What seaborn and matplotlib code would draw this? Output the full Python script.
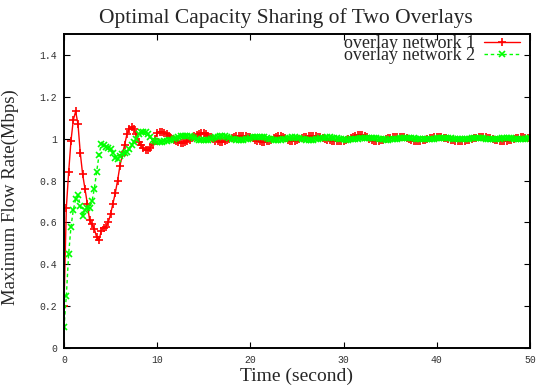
import numpy as np
import pandas as pd
import seaborn as sns
import matplotlib.pyplot as plt

# time grid (seconds), one sample every 0.25 s
time_s = np.arange(0, 50.001, 0.25)

# overlay network 1 (Mbps)
net1 = [
    0.20, 0.67, 0.84, 0.99, 1.09, 1.13, 1.07, 0.93,            # 0 - 1.75
    0.83, 0.76, 0.69, 0.61, 0.59, 0.57, 0.53, 0.515,           # 2 - 3.75
    0.56, 0.575, 0.58, 0.60, 0.64, 0.69, 0.74, 0.80,           # 4 - 5.75
    0.87, 0.92, 0.97, 1.02, 1.048, 1.057, 1.045, 1.02,         # 6 - 7.75
    0.985, 0.97, 0.955, 0.947, 0.946, 0.955, 0.975, 1.00,      # 8 - 9.75
    1.025, 1.03, 1.03, 1.027, 1.021, 1.013, 1.004, 0.995,      # 10 - 11.75
    0.987, 0.982, 0.980, 0.980, 0.983, 0.989, 0.996, 1.004,    # 12 - 13.75
    1.012, 1.019, 1.024, 1.026, 1.025, 1.021, 1.014, 1.006,    # 14 - 15.75
    0.998, 0.991, 0.987, 0.985, 0.985, 0.988, 0.992, 0.998,    # 16 - 17.75
    1.005, 1.009, 1.012, 1.014, 1.015, 1.015, 1.013, 1.010,    # 18 - 19.75
    1.006, 1.001, 0.996, 0.991, 0.987, 0.985, 0.985, 0.987,    # 20 - 21.75
    0.991, 0.996, 1.002, 1.008, 1.012, 1.012, 1.009, 1.003,    # 22 - 23.75
    0.993, 0.990, 0.989, 0.991, 0.994, 0.998, 1.002, 1.006,    # 24 - 25.75
    1.009, 1.011, 1.012, 1.012, 1.011, 1.009, 1.006, 1.002,    # 26 - 27.75
    0.999, 0.996, 0.993, 0.990, 0.988, 0.987, 0.987, 0.987,    # 28 - 29.75
    0.989, 0.992, 0.997, 1.003, 1.008, 1.013, 1.016, 1.017,    # 30 - 31.75
    1.016, 1.012, 1.006, 1.000, 0.994, 0.990, 0.989, 0.990,    # 32 - 33.75
    0.992, 0.995, 0.998, 1.002, 1.005, 1.007, 1.008, 1.009,    # 34 - 35.75
    1.009, 1.008, 1.006, 1.002, 0.998, 0.994, 0.991, 0.990,    # 36 - 37.75
    0.990, 0.991, 0.993, 0.996, 0.999, 1.002, 1.005, 1.007,    # 38 - 39.75
    1.008, 1.008, 1.007, 1.005, 1.002, 0.999, 0.996, 0.993,    # 40 - 41.75
    0.991, 0.990, 0.989, 0.989, 0.990, 0.992, 0.995, 0.998,    # 42 - 43.75
    1.001, 1.004, 1.006, 1.007, 1.007, 1.006, 1.004, 1.001,    # 44 - 45.75
    0.998, 0.995, 0.993, 0.991, 0.990, 0.990, 0.991, 0.993,    # 46 - 47.75
    0.996, 0.999, 1.002, 1.004, 1.006, 1.006, 1.005, 1.003,    # 48 - 49.75
    1.001,                                                     # 50
]

# overlay network 2 (Mbps)
net2 = [
    0.10, 0.25, 0.45, 0.58, 0.66, 0.71, 0.73, 0.68,            # 0 - 1.75
    0.63, 0.66, 0.67, 0.67, 0.70, 0.76, 0.84, 0.92,            # 2 - 3.75
    0.975, 0.97, 0.96, 0.955, 0.95, 0.93, 0.91, 0.905,         # 4 - 5.75
    0.915, 0.925, 0.93, 0.935, 0.95, 0.97, 0.985, 1.00,        # 6 - 7.75
    1.02, 1.03, 1.034, 1.03, 1.02, 1.006, 0.995, 0.988,        # 8 - 9.75
    0.985, 0.984, 0.985, 0.987, 0.990, 0.993, 0.996, 0.999,    # 10 - 11.75
    1.003, 1.007, 1.011, 1.014, 1.015, 1.015, 1.013, 1.009,    # 12 - 13.75
    1.004, 0.999, 0.995, 0.993, 0.993, 0.994, 0.996, 0.999,    # 14 - 15.75
    1.003, 1.007, 1.010, 1.012, 1.012, 1.011, 1.008, 1.004,    # 16 - 17.75
    1.000, 0.997, 0.995, 0.994, 0.994, 0.995, 0.997, 1.000,    # 18 - 19.75
    1.003, 1.006, 1.008, 1.009, 1.009, 1.008, 1.006, 1.003,    # 20 - 21.75
    1.000, 0.997, 0.995, 0.994, 0.994, 0.995, 0.997, 1.000,    # 22 - 23.75
    1.003, 1.005, 1.006, 1.006, 1.005, 1.003, 1.000, 0.997,    # 24 - 25.75
    0.995, 0.994, 0.994, 0.995, 0.997, 0.999, 1.001, 1.003,    # 26 - 27.75
    1.005, 1.006, 1.006, 1.005, 1.004, 1.002, 1.000, 0.998,    # 28 - 29.75
    0.997, 0.996, 0.996, 0.997, 0.998, 0.999, 1.000, 1.001,    # 30 - 31.75
    1.002, 1.003, 1.004, 1.004, 1.004, 1.003, 1.002, 1.000,    # 32 - 33.75
    0.998, 0.997, 0.996, 0.996, 0.997, 0.998, 0.999, 1.000,    # 34 - 35.75
    1.001, 1.002, 1.003, 1.003, 1.003, 1.002, 1.001, 1.000,    # 36 - 37.75
    0.999, 0.998, 0.997, 0.997, 0.997, 0.998, 0.999, 1.000,    # 38 - 39.75
    1.001, 1.002, 1.003, 1.003, 1.003, 1.002, 1.001, 1.000,    # 40 - 41.75
    0.999, 0.998, 0.998, 0.998, 0.998, 0.999, 1.000, 1.001,    # 42 - 43.75
    1.002, 1.002, 1.002, 1.002, 1.001, 1.000, 0.999, 0.998,    # 44 - 45.75
    0.998, 0.998, 0.999, 1.000, 1.001, 1.002, 1.002, 1.002,    # 46 - 47.75
    1.001, 1.000, 0.999, 0.998, 0.998, 0.999, 1.000, 1.001,    # 48 - 49.75
    1.001,                                                     # 50
]

x_ticks = [0, 10, 20, 30, 40, 50]
y_ticks = [0, 0.2, 0.4, 0.6, 0.8, 1, 1.2, 1.4]
y_tick_labels = ['0', '0.2', '0.4', '0.6', '0.8', '1', '1.2', '1.4']

sns.set_style('ticks')
plt.rcParams['font.family'] = ['Liberation Serif', 'DejaVu Serif']
plt.rcParams['xtick.direction'] = 'in'
plt.rcParams['ytick.direction'] = 'in'

fig = plt.figure(figsize=(5.37, 3.85), dpi=100)
ax = fig.add_axes([64 / 537, 37 / 385, 466 / 537, 314 / 385])

sns.lineplot(x=time_s, y=net1, ax=ax, color='#ff0000', lw=1.0,
             marker='+', markersize=6, markeredgewidth=1.2,
             markeredgecolor='#ff0000', label='overlay network 1')
sns.lineplot(x=time_s, y=net2, ax=ax, color='#00ff00', lw=1.0,
             marker='x', markersize=4.5, markeredgewidth=1.2,
             markeredgecolor='#00ff00', label='overlay network 2')
ax.lines[1].set_dashes((2.5, 2))

ax.set_xlim(0, 50)
ax.set_ylim(0, 1.5)
ax.set_xticks(x_ticks)
ax.set_yticks(y_ticks)
ax.set_yticklabels(y_tick_labels)
ax.tick_params(axis='both', which='both', length=4, width=0.8,
               top=True, right=True, labelsize=7, colors='black',
               labelcolor='#333333', pad=5)
for lab in ax.get_xticklabels() + ax.get_yticklabels():
    lab.set_family('Liberation Mono')
for s in ax.spines.values():
    s.set_linewidth(1.4)
    s.set_color('black')

ax.set_xlabel('Time (second)', fontsize=14, labelpad=2)
ax.set_ylabel('Maximum Flow Rate(Mbps)', fontsize=13.5)
ax.yaxis.set_label_coords(-0.097, 0.48)
fig.text(286 / 537, 1 - 18 / 385, 'Optimal Capacity Sharing of Two Overlays',
         ha='center', va='center', fontsize=15.5)

leg = ax.legend(loc='upper right', frameon=False, markerfirst=False,
                fontsize=13, handlelength=2.0, handletextpad=0.5,
                labelspacing=-0.28, borderaxespad=0.0,
                bbox_to_anchor=(0.995, 1.02))

fig.savefig('out.png', dpi=100)
